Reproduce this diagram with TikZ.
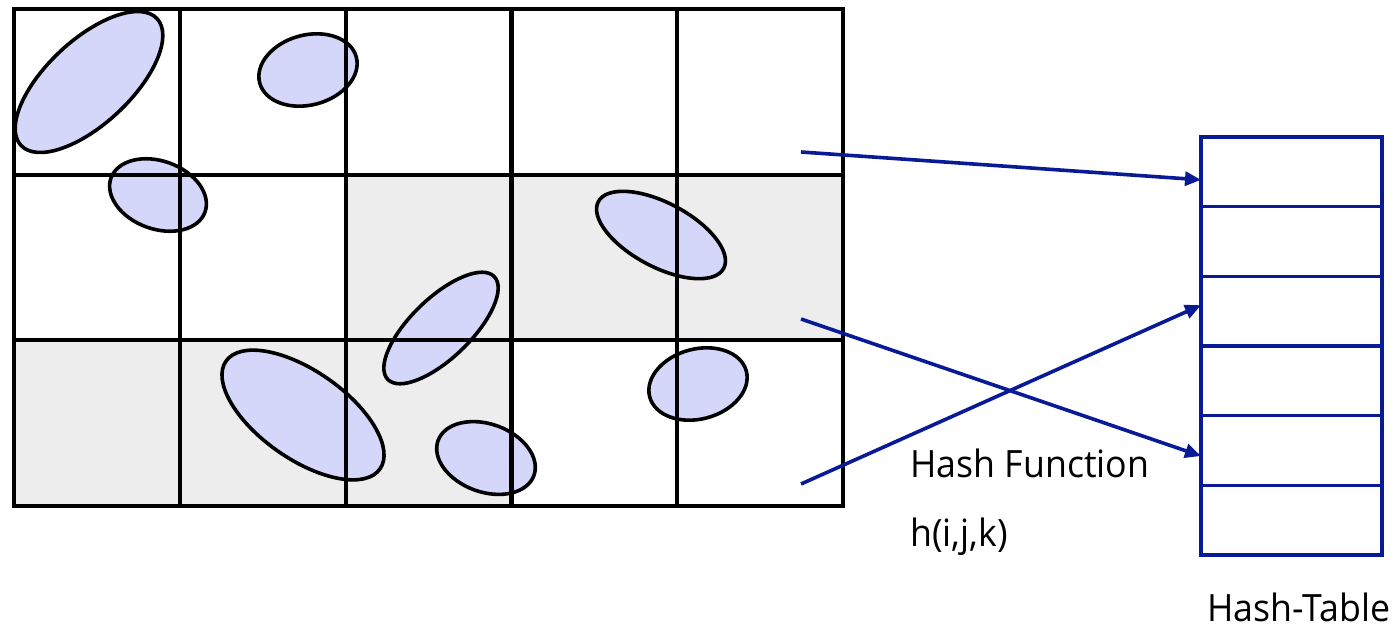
\documentclass[tikz,border=0pt]{standalone}
\usepackage{fontspec}
\setmainfont{Open Sans}[FakeStretch=0.95]
\usetikzlibrary{arrows.meta,calc}
\definecolor{cellgray}{RGB}{237,237,237}
\definecolor{blobfill}{RGB}{213,215,250}
\definecolor{tableblue}{RGB}{8,26,150}

\begin{document}
\begin{tikzpicture}[x=0.5pt,y=-0.5pt,
  gridline/.style={line width=2.1pt, draw=black},
  blob/.style={fill=blobfill, draw=black, line width=1.8pt},
  slot/.style={draw=tableblue, line width=1.8pt, rectangle, minimum width=90.5pt,
    minimum height=34.83pt, inner sep=0pt, outer sep=0pt},
  hashlink/.style={draw=tableblue, line width=1.8pt, -{Triangle[length=8pt,width=7pt]}},
  txt/.style={font=\fontsize{18.8}{22}\selectfont, inner sep=0pt, anchor=base west}]

\useasboundingbox (0,0) rectangle (1395,631);

% grid geometry: 5 x 3 cells
\def\gx{14}\def\gy{9}\def\cw{165.8}\def\ch{165.67}

% shaded cells
\fill[cellgray] (\gx+2*\cw,\gy+\ch) rectangle (\gx+5*\cw,\gy+2*\ch);
\fill[cellgray] (\gx,\gy+2*\ch) rectangle (\gx+3*\cw,\gy+3*\ch);

% objects
\draw[blob, rotate around={43:(89,82)}]   (89,82)   ellipse [x radius=93, y radius=42];
\draw[blob, rotate around={15:(308,70)}]  (308,70)  ellipse [x radius=50, y radius=35];
\draw[blob, rotate around={-20:(158,195)}] (158,195) ellipse [x radius=50, y radius=34];
\draw[blob, rotate around={-28:(661,235)}] (661,235) ellipse [x radius=71, y radius=32];
\draw[blob, rotate around={44:(441,328)}]  (441,328) ellipse [x radius=74, y radius=30];
\draw[blob, rotate around={-35:(303,415)}] (303,415) ellipse [x radius=94, y radius=44];
\draw[blob, rotate around={-20:(486,458)}] (486,458) ellipse [x radius=51, y radius=34];
\draw[blob, rotate around={15:(698,384)}]  (698,384) ellipse [x radius=50, y radius=35];

% grid lines
\foreach \i in {1,...,4}
  \draw[gridline] (\gx+\i*\cw,\gy) -- (\gx+\i*\cw,\gy+3*\ch);
\foreach \j in {1,2}
  \draw[gridline] (\gx,\gy+\j*\ch) -- (\gx+5*\cw,\gy+\j*\ch);
\draw[gridline] (\gx,\gy) rectangle (\gx+5*\cw,\gy+3*\ch);

% hash table
\foreach \k in {1,...,6}
  \node[slot] (slot\k) at (1291.5,{137+69.67*(\k-0.5)}) {};

% sources of the mappings
\coordinate (src1) at (801,152);
\coordinate (src2) at (801,319);
\coordinate (src3) at (801,484);

\draw[hashlink] (src1) -- ($(slot1.west)+(0,8)$);
\draw[hashlink] (src2) -- ($(slot5.west)+(0,5.5)$);
\draw[hashlink] (src3) -- ($(slot3.west)+(0,-6)$);

% labels
\node[txt] (hashfn) at (910,477) {Hash Function};
\node[txt] (hashidx) at (910,546) {h(i,j,k)};
\node[txt] (tablename) at (1207,621) {Hash-Table};
\end{tikzpicture}
\end{document}
